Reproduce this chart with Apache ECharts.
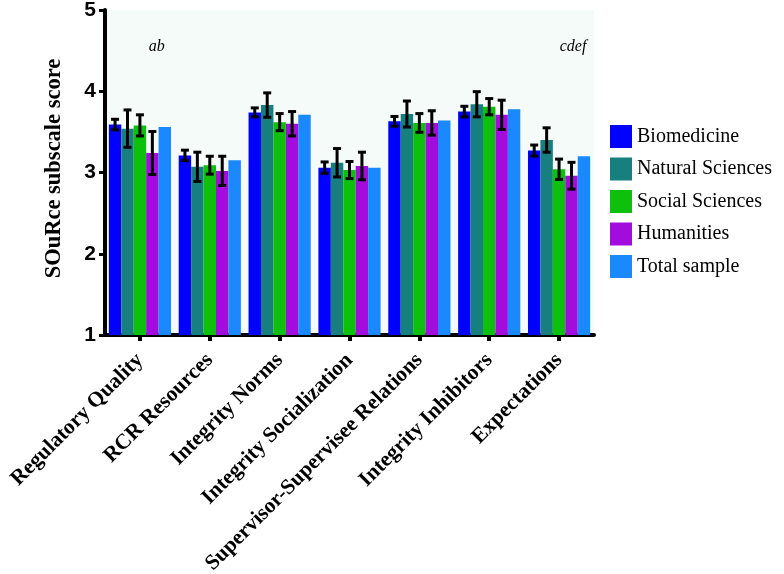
<!DOCTYPE html>
<html>
<head>
<meta charset="utf-8">
<script src="https://cdn.jsdelivr.net/npm/echarts@6/dist/echarts.min.js"></script>
<style>html,body{margin:0;padding:0;background:#fff;}#c{width:784px;height:574px;}</style>
</head>
<body>
<div id="c"></div>
<script>
const categories = ["Regulatory Quality","RCR Resources","Integrity Norms","Integrity Socialization","Supervisor-Supervisee Relations","Integrity Inhibitors","Expectations"];
const seriesNames = ["Biomedicine","Natural Sciences","Social Sciences","Humanities","Total sample"];
const biomedicine = [3.59, 3.21, 3.74, 3.06, 3.63, 3.75, 3.27];
const naturalSciences = [3.54, 3.07, 3.83, 3.12, 3.72, 3.84, 3.40];
const socialSciences = [3.58, 3.09, 3.62, 3.03, 3.61, 3.81, 3.04];
const humanities = [3.24, 3.02, 3.60, 3.08, 3.61, 3.71, 2.96];
const totalSample = [3.56, 3.15, 3.71, 3.06, 3.64, 3.78, 3.20];
const biomedicineErr = [0.065, 0.065, 0.055, 0.07, 0.06, 0.065, 0.068];
const naturalSciencesErr = [0.23, 0.18, 0.15, 0.175, 0.16, 0.155, 0.15];
const socialSciencesErr = [0.13, 0.11, 0.105, 0.105, 0.115, 0.10, 0.125];
const humanitiesErr = [0.265, 0.18, 0.15, 0.17, 0.15, 0.18, 0.165];
const yTicks = [1, 2, 3, 4, 5];
const annotations = [{text: "ab", cat: 0}, {text: "cdef", cat: 6}];

const colors = ["#0000ff", "#177f80", "#0cc00c", "#a20ddd", "#1a88ff"];
const values = [biomedicine, naturalSciences, socialSciences, humanities, totalSample];
const errs = [biomedicineErr, naturalSciencesErr, socialSciencesErr, humanitiesErr];
const catGap = 0.11;

const chart = echarts.init(document.getElementById('c'), null, {renderer: 'canvas'});

const barSeries = seriesNames.map((n, i) => ({
  name: n, type: 'bar', data: values[i],
  itemStyle: {color: colors[i]},
  barGap: '0%', barCategoryGap: (catGap * 100) + '%',
  emphasis: {disabled: true}
}));

const errSeries = errs.map((e, k) => ({
  type: 'custom', z: 10, silent: true,
  data: e.map((v, c) => [c, values[k][c], v]),
  renderItem: function (params, api) {
    const c = api.value(0), val = api.value(1), er = api.value(2);
    const base = api.coord([c, val]);
    const band = api.size([1, 0])[0];
    const groupW = band * (1 - catGap);
    const bw = groupW / 5;
    const x = base[0] - groupW / 2 + bw * (k + 0.5);
    const yt = api.coord([c, val + er])[1];
    const yb = api.coord([c, val - er])[1];
    const cap = 4;
    const st = {stroke: '#000', lineWidth: 3};
    return {type: 'group', children: [
      {type: 'line', shape: {x1: x, y1: yt, x2: x, y2: yb}, style: st},
      {type: 'line', shape: {x1: x - cap, y1: yt, x2: x + cap, y2: yt}, style: st},
      {type: 'line', shape: {x1: x - cap, y1: yb, x2: x + cap, y2: yb}, style: st}
    ]};
  }
}));

const annSeries = {
  type: 'custom', z: 11, silent: true,
  data: annotations.map(a => [a.cat, 4.55, a.text]),
  renderItem: function (params, api) {
    const p = api.coord([api.value(0), api.value(1)]);
    const band = api.size([1, 0])[0];
    const idx = params.dataIndex;
    const a = annotations[idx];
    const x = a.cat === 0 ? p[0] + band * 0.24 : p[0] + band * 0.2;
    return {type: 'text', x: x, y: p[1], style: {text: a.text, font: 'italic 16px "Liberation Serif", "Times New Roman", serif', fill: '#000', align: 'center', verticalAlign: 'middle'}};
  }
};

chart.setOption({
  animation: false,
  color: colors,
  grid: {left: 105, right: 190, top: 10, bottom: 239, show: true, backgroundColor: '#f4fbf8', borderWidth: 0, containLabel: false, outerBoundsMode: 'none'},
  legend: {
    orient: 'vertical', left: 605, top: 120,
    itemWidth: 22, itemHeight: 23, itemGap: 9.5,
    icon: 'rect',
    data: seriesNames,
    textStyle: {fontFamily: '"Liberation Serif", "Times New Roman", serif', fontSize: 20, color: '#000', padding: [0, 0, 0, 0], lineHeight: 23},
    selectedMode: false
  },
  xAxis: {
    type: 'category', data: categories,
    axisLine: {show: true, lineStyle: {color: '#000', width: 4}},
    axisTick: {show: true, alignWithLabel: true, length: 6, lineStyle: {color: '#000', width: 4}},
    axisLabel: {rotate: 45, interval: 0, margin: 22, color: '#000', fontFamily: '"Liberation Serif", "Times New Roman", serif', fontWeight: 'bold', fontSize: 21.5}
  },
  yAxis: {
    type: 'value', min: yTicks[0], max: yTicks[yTicks.length - 1], interval: 1,
    name: 'SOuRce subscale score', nameLocation: 'middle', nameGap: 39,
    nameTextStyle: {fontFamily: '"Liberation Serif", "Times New Roman", serif', fontWeight: 'bold', fontSize: 22.5, color: '#000', padding: [0, 0, 0, 8]},
    axisLine: {show: true, lineStyle: {color: '#000', width: 4}},
    axisTick: {show: true, length: 6, lineStyle: {color: '#000', width: 3}},
    axisLabel: {margin: 9, color: '#000', fontFamily: '"Liberation Sans", Arial, sans-serif', fontWeight: 'bold', fontSize: 21},
    splitLine: {show: false}
  },
  series: barSeries.concat(errSeries, [annSeries])
});
</script>
</body>
</html>
